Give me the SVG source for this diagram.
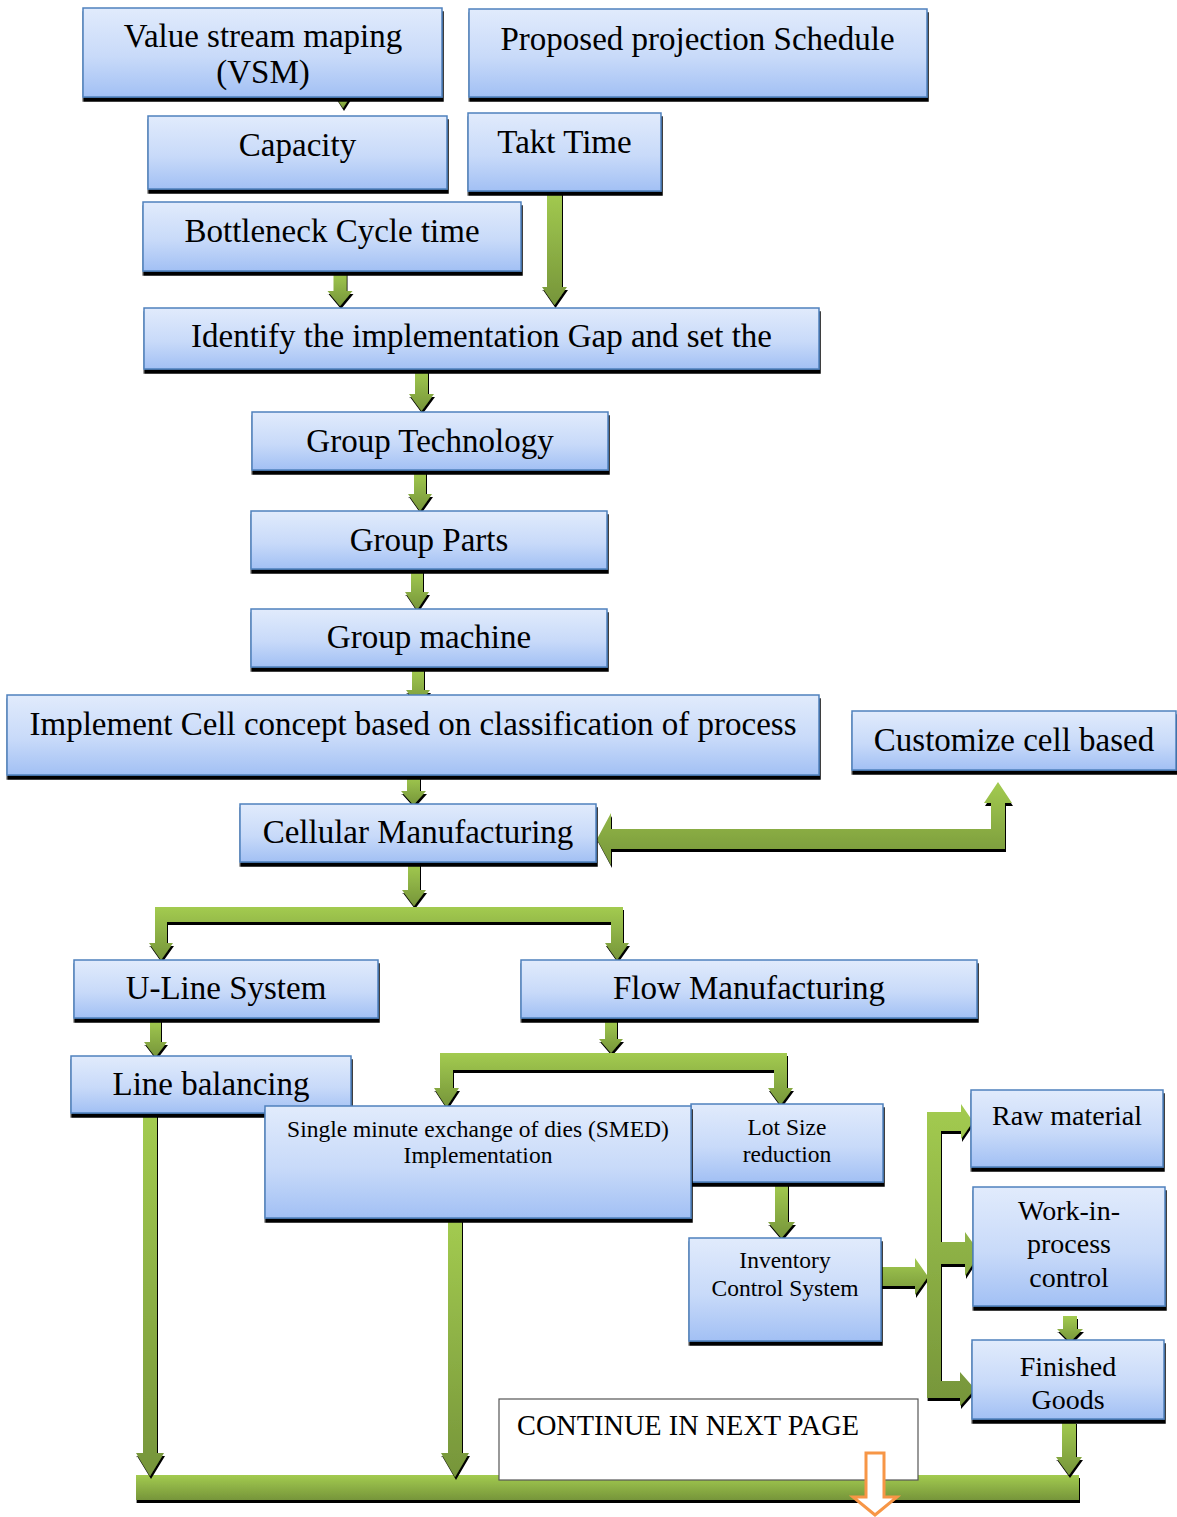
<svg xmlns="http://www.w3.org/2000/svg" width="1177" height="1517" viewBox="0 0 1177 1517">
<defs>
<linearGradient id="bg" x1="0" y1="0" x2="0" y2="1"><stop offset="0" stop-color="#E1EBFC"/><stop offset="0.55" stop-color="#C8DAF9"/><stop offset="1" stop-color="#A2C0F4"/></linearGradient>
<linearGradient id="gg" x1="0" y1="0" x2="0" y2="1"><stop offset="0" stop-color="#A3CB50"/><stop offset="1" stop-color="#76953A"/></linearGradient>
<filter id="ash" filterUnits="userSpaceOnUse" x="0" y="0" width="1177" height="1517"><feOffset in="SourceAlpha" dx="0.6" dy="3" result="o"/><feMerge><feMergeNode in="o"/><feMergeNode in="SourceGraphic"/></feMerge></filter>
<filter id="bsh" filterUnits="userSpaceOnUse" x="0" y="0" width="1177" height="1517"><feOffset in="SourceAlpha" dx="0.5" dy="4" result="o"/><feMerge><feMergeNode in="o"/><feMergeNode in="SourceGraphic"/></feMerge></filter>
</defs>
<style>
.ar{fill:url(#gg);filter:url(#ash);}
.box{fill:url(#bg);stroke:#4F81BD;stroke-width:1.5;filter:url(#bsh);}
.t{font-family:"Liberation Serif","Times New Roman",serif;font-size:33px;fill:#000;text-anchor:middle;}
.s{font-size:23.5px;}
.m{font-size:28px;}
</style>
<rect width="1177" height="1517" fill="#fff"/>
<g id="connectors">
<polygon class="ar" points="336,97 350,97 343,108"/>
<polygon class="ar" points="333.5,271 346.5,271 346.5,291 352.5,291 340,306 327.5,291 333.5,291"/>
<polygon class="ar" points="547,191 562,191 562,287 567,287 554.5,305 542,287 547,287"/>
<polygon class="ar" points="415,369 428,369 428,394 434,394 421.5,411 409,394 415,394"/>
<polygon class="ar" points="414,471 426,471 426,494 432,494 420,511 408,494 414,494"/>
<polygon class="ar" points="411,570 423,570 423,592 429,592 417,610 405,592 411,592"/>
<polygon class="ar" points="412,668 424,668 424,690 430,690 418,706 406,690 412,690"/>
<polygon class="ar" points="407,775 420,775 420,791 426,791 413.5,805 401,791 407,791"/>
<polygon class="ar" points="597,839 611,813 611,829 991,829 991,803 984,803 998,782 1012,803 1005,803 1005,849 611,849 611,865"/>
<polygon class="ar" points="408,863 420,863 420,890 426,890 414,906 402,890 408,890"/>
<polygon class="ar" points="155,907 623,907 623,943 629,943 617,960 605,943 611,943 611,922 167,922 167,943 173,943 161,960 149,943 155,943"/>
<polygon class="ar" points="150,1019 161,1019 161,1042 167,1042 155.5,1057 144,1042 150,1042"/>
<polygon class="ar" points="605,1019 617,1019 617,1039 623,1039 611,1053 599,1039 605,1039"/>
<polygon class="ar" points="440,1053 787,1053 787,1088 793,1088 780.5,1105 768,1088 774,1088 774,1070 453,1070 453,1088 459,1088 446.5,1107 434,1088 440,1088"/>
<polygon class="ar" points="775,1183 788,1183 788,1222 795,1222 781.5,1238 768,1222 775,1222"/>
<polygon class="ar" points="881,1267 915,1267 915,1258 928,1276.5 915,1295 915,1286 881,1286"/>
<polygon class="ar" points="927,1112 961,1112 961,1104 973,1121.5 961,1139 961,1131 941,1131 941,1242 965,1242 965,1232 980,1253 965,1276 965,1264 941,1264 941,1381 960,1381 960,1372 975,1389 960,1406 960,1398 927,1398"/>
<polygon class="ar" points="1063,1316 1077,1316 1077,1329 1083,1329 1070,1342 1057,1329 1063,1329"/>
<rect class="ar" x="136" y="1475" width="943" height="25"/>
<polygon class="ar" points="1062,1421 1076,1421 1076,1457 1082,1457 1069,1475 1056,1457 1062,1457"/>
<polygon class="ar" points="143,1114 157,1114 157,1453 164,1453 150,1476 136,1453 143,1453"/>
<polygon class="ar" points="448,1219 462,1219 462,1453 469,1453 455,1477 441,1453 448,1453"/>
</g>
<g id="vsm"><rect class="box" x="83" y="8" width="359" height="89"/><text class="t" x="263" y="47">Value stream maping</text><text class="t" x="263" y="83">(VSM)</text></g>
<g id="proposed"><rect class="box" x="469" y="9" width="458" height="88"/><text class="t" x="697.5" y="50">Proposed projection Schedule</text></g>
<g id="capacity"><rect class="box" x="148" y="116" width="299" height="73"/><text class="t" x="297.5" y="156">Capacity</text></g>
<g id="takt"><rect class="box" x="468" y="113" width="193" height="78"/><text class="t" x="564.5" y="153">Takt Time</text></g>
<g id="bottleneck"><rect class="box" x="143" y="202" width="378" height="69"/><text class="t" x="332" y="242">Bottleneck Cycle time</text></g>
<g id="identify"><rect class="box" x="144" y="308" width="675" height="61"/><text class="t" x="481.5" y="347">Identify the implementation Gap and set the</text></g>
<g id="group-technology"><rect class="box" x="252" y="412" width="356" height="58"/><text class="t" x="430" y="452">Group Technology</text></g>
<g id="group-parts"><rect class="box" x="251" y="511" width="356" height="58"/><text class="t" x="429" y="551">Group Parts</text></g>
<g id="group-machine"><rect class="box" x="251" y="609" width="356" height="58"/><text class="t" x="429" y="648">Group machine</text></g>
<g id="implement"><rect class="box" x="7" y="695" width="812" height="80"/><text class="t" x="413" y="735">Implement Cell concept based on classification of process</text></g>
<g id="customize"><rect class="box" x="852" y="711" width="324" height="59"/><text class="t" x="1014" y="751">Customize cell based</text></g>
<g id="cellular"><rect class="box" x="240" y="804" width="356" height="58"/><text class="t" x="418" y="843">Cellular Manufacturing</text></g>
<g id="u-line"><rect class="box" x="74" y="960" width="304" height="58"/><text class="t" x="226" y="999">U-Line System</text></g>
<g id="flow"><rect class="box" x="521" y="960" width="456" height="58"/><text class="t" x="749" y="999">Flow Manufacturing</text></g>
<g id="line-balancing"><rect class="box" x="71" y="1056" width="280" height="57"/><text class="t" x="211" y="1095">Line balancing</text></g>
<g id="lot-size"><rect class="box" x="691" y="1104" width="192" height="78"/><text class="t s" x="787" y="1135">Lot Size</text><text class="t s" x="787" y="1162">reduction</text></g>
<g id="smed"><rect class="box" x="265" y="1106" width="426" height="112"/><text class="t s" x="478" y="1137">Single minute exchange of dies (SMED)</text><text class="t s" x="478" y="1163">Implementation</text></g>
<g id="inventory"><rect class="box" x="689" y="1238" width="192" height="103"/><text class="t s" x="785" y="1268">Inventory</text><text class="t s" x="785" y="1296">Control System</text></g>
<g id="raw"><rect class="box" x="971" y="1090" width="192" height="77"/><text class="t m" x="1067" y="1125">Raw material</text></g>
<g id="wip"><rect class="box" x="973" y="1187" width="192" height="119"/><text class="t m" x="1069" y="1220">Work-in-</text><text class="t m" x="1069" y="1253">process</text><text class="t m" x="1069" y="1287">control</text></g>
<g id="finished"><rect class="box" x="972" y="1340" width="192" height="79"/><text class="t m" x="1068" y="1376">Finished</text><text class="t m" x="1068" y="1409">Goods</text></g>
<g id="continue"><rect x="499" y="1399" width="419" height="81" fill="#fff" stroke="#555" stroke-width="1.2"/><text class="t" x="517" y="1435" style="text-anchor:start;font-size:29px" textLength="342" lengthAdjust="spacingAndGlyphs">CONTINUE IN NEXT PAGE</text></g>
<g id="next-page-arrow"><polygon points="866,1453 884,1453 884,1497 897,1497 875,1515 853,1497 866,1497" fill="#fff" stroke="#F79646" stroke-width="3"/></g>
</svg>
